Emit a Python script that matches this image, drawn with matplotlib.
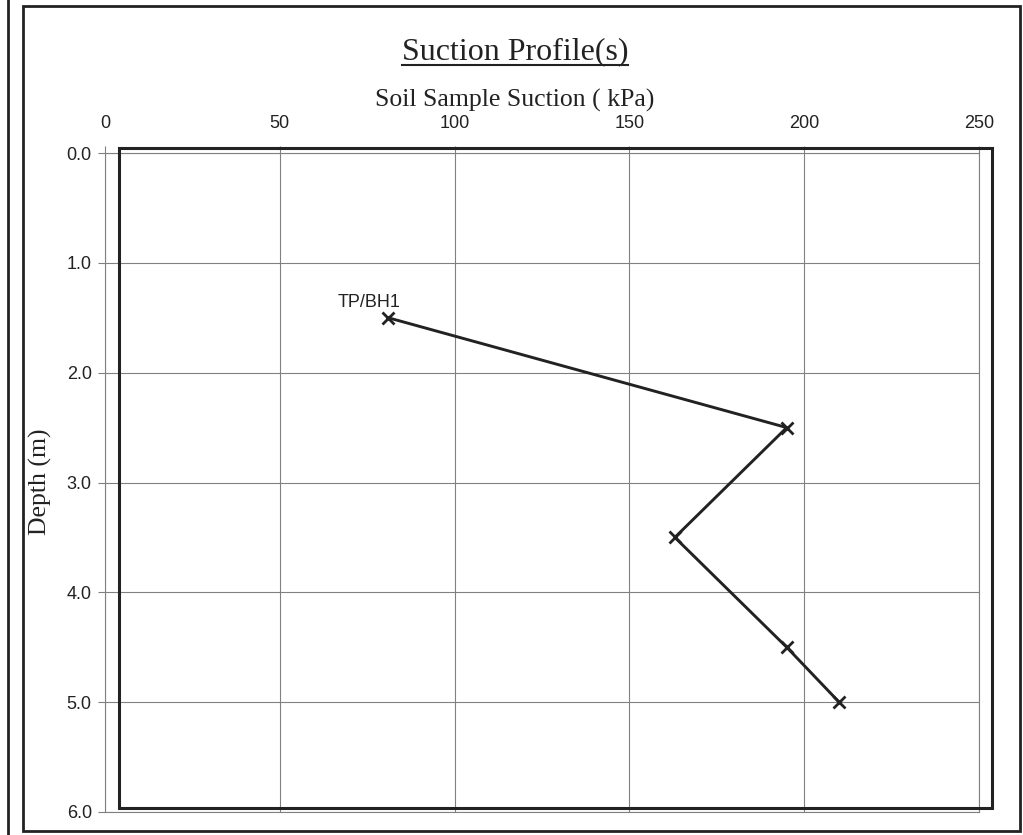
import matplotlib.pyplot as plt
from matplotlib.patches import Rectangle
from matplotlib.lines import Line2D

# Suction measurements for borehole TP/BH1
borehole = "TP/BH1"
suction_kpa = [81, 195, 163, 195, 210]
depth_m = [1.5, 2.5, 3.5, 4.5, 5.0]

x_ticks = [0, 50, 100, 150, 200, 250]
y_ticks = [0.0, 1.0, 2.0, 3.0, 4.0, 5.0, 6.0]

W, H = 1023, 835
fig = plt.figure(figsize=(W / 100, H / 100), dpi=100)
fig.patch.set_facecolor("white")

# axes placed in pixel terms
left, right, top, bottom = 105, 979, 153, 812
ax = fig.add_axes([left / W, 1 - bottom / H, (right - left) / W, (bottom - top) / H])

ink = "#222222"
grid_col = "#808080"

ax.plot(suction_kpa, depth_m, color=ink, lw=2.1, marker="x", ms=8, mew=2.0, zorder=3)
ax.annotate(borehole, (suction_kpa[0], depth_m[0]), xytext=(-14, 5),
            textcoords="offset points", ha="center", va="bottom",
            fontsize=13, family="Liberation Sans", color=ink)

ax.set_xlim(0, 250)
ax.set_ylim(6.0, 0.0)
ax.set_xticks(x_ticks)
ax.set_yticks(y_ticks)
ax.set_yticklabels([f"{v:.1f}" for v in y_ticks])
ax.xaxis.tick_top()
ax.tick_params(axis="both", direction="out", length=5, width=0.8, color=grid_col,
               labelsize=13, labelcolor=ink)
ax.tick_params(axis="y", pad=4.5)
ax.tick_params(axis="x", pad=10)
for lab in ax.get_xticklabels() + ax.get_yticklabels():
    lab.set_family("Liberation Sans")

ax.grid(True, color=grid_col, lw=0.8)
for sp in ax.spines.values():
    sp.set_color(grid_col)
    sp.set_linewidth(0.8)

# heavy plot-area border, sitting slightly off the grid frame
ax.add_patch(Rectangle((0.016, 0.006), 0.999, 1.0016, transform=ax.transAxes,
                       fill=False, ec=ink, lw=2.2, clip_on=False, zorder=4))

# titles
title = fig.text(515 / W, 1 - 59 / H, "Suction Profile(s)", ha="center", va="baseline",
                 fontsize=23, family="Liberation Serif", color=ink)
fig.canvas.draw()
bb = title.get_window_extent().transformed(fig.transFigure.inverted())
fig.add_artist(Line2D([bb.x0, bb.x1], [1 - 65 / H, 1 - 65 / H], color=ink, lw=1.5))
fig.text(515 / W, 1 - 107 / H, "Soil Sample Suction ( kPa)", ha="center", va="baseline",
         fontsize=18.5, family="Liberation Serif", color=ink)
fig.text(40 / W, 1 - 482 / H, "Depth (m)", ha="center", va="center", rotation=90,
         fontsize=18.5, family="Liberation Serif", color=ink)

# page frames
fig.add_artist(Rectangle((23 / W, 1 - 831 / H), (1020 - 23) / W, (831 - 6) / H,
                         fill=False, ec=ink, lw=2.0, transform=fig.transFigure))
fig.add_artist(Line2D([8 / W, 8 / W], [0, 1], color=ink, lw=2.0))

fig.savefig("out.png", dpi=100)
